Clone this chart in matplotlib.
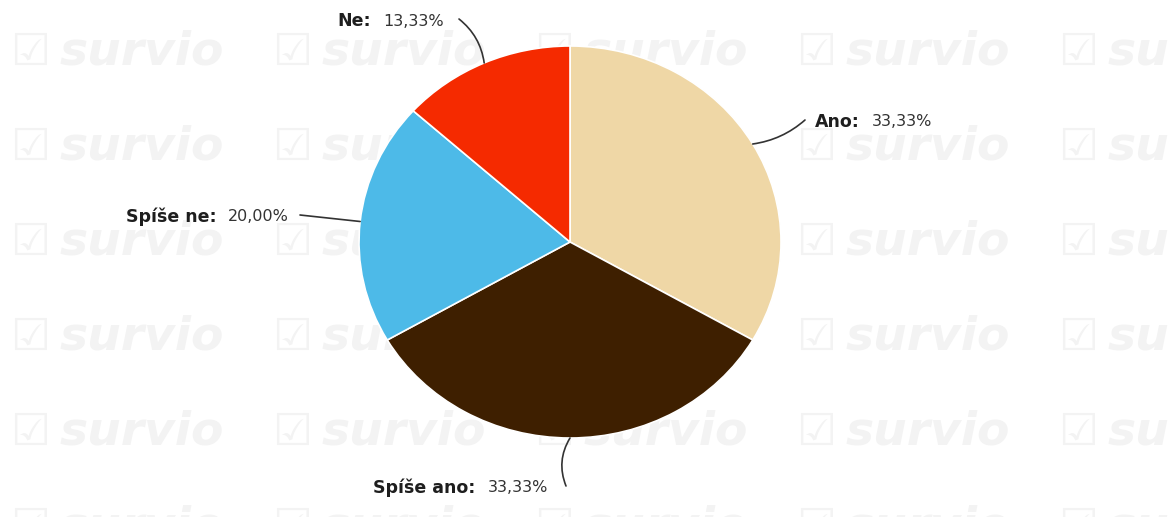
import numpy as np
import matplotlib
matplotlib.use('Agg')
import matplotlib.pyplot as plt

labels = ['Ano', 'Spíše ano', 'Spíše ne', 'Ne']
values = [33.33, 33.33, 20.00, 13.33]
colors = ['#EFD7A6', '#3E1F00', '#4DBAE8', '#F52A00']

# label text anchor (figure pixels from top-left) and side
label_pos = [(815, 122, 'left'), (548, 488, 'right'), (289, 217, 'right'), (444, 21, 'right')]
line_end = [(805, 120), (566, 486), (300, 215), (459, 19)]
line_rad = [-0.15, -0.25, 0.0, -0.2]

W, H = 1170, 517
fig = plt.figure(figsize=(W / 100, H / 100), dpi=100)
fig.patch.set_facecolor('white')

# tiled watermark in the background
wm = '#f3f3f3'
for row in range(6):
    for col in range(5):
        x = 10 + col * 262
        y = 52 + row * 95
        fig.text(x / W, 1 - y / H, '☑', fontsize=32, color=wm,
                 fontweight='bold', va='center', ha='left', zorder=-5)
        fig.text((x + 50) / W, 1 - y / H, 'survio', fontsize=34, color=wm,
                 fontweight='bold', style='italic', va='center', ha='left', zorder=-5)

# pie axes sized to the (slightly stretched) ellipse
cx, cy, rx, ry = 570, 242, 211, 196
ax = fig.add_axes([(cx - rx) / W, 1 - (cy + ry) / H, 2 * rx / W, 2 * ry / H])
wedges, _ = ax.pie(values, colors=colors, startangle=90, counterclock=False,
                   wedgeprops=dict(edgecolor='white', linewidth=1.2))
ax.set_aspect('auto')
ax.set_xlim(-1, 1)
ax.set_ylim(-1, 1)
ax.axis('off')

fig.canvas.draw()
renderer = fig.canvas.get_renderer()
gap = 12

for w, lab, val, (tx, ty, side), (lx, ly), rad in zip(wedges, labels, values, label_pos, line_end, line_rad):
    mid = np.deg2rad((w.theta1 + w.theta2) / 2)
    px, py = np.cos(mid), np.sin(mid)
    ax.annotate('', xy=(px, py), xycoords='data',
                xytext=(lx, H - ly), textcoords='figure pixels',
                arrowprops=dict(arrowstyle='-', color='#333333', lw=1.2,
                                connectionstyle='arc3,rad=%s' % rad,
                                shrinkA=0, shrinkB=0))
    name = lab + ':'
    value = ('%.2f%%' % val).replace('.', ',')
    if side == 'left':
        t1 = fig.text(tx / W, 1 - ty / H, name, fontsize=12.5, fontweight='bold',
                      color='#1e1e1e', ha='left', va='center')
        bb = t1.get_window_extent(renderer)
        fig.text((bb.x1 + gap) / W, 1 - ty / H, value, fontsize=11.5, color='#333333',
                 ha='left', va='center')
    else:
        t2 = fig.text(tx / W, 1 - ty / H, value, fontsize=11.5, color='#333333',
                      ha='right', va='center')
        bb = t2.get_window_extent(renderer)
        fig.text((bb.x0 - gap) / W, 1 - ty / H, name, fontsize=12.5, fontweight='bold',
                 color='#1e1e1e', ha='right', va='center')

fig.savefig('out.png', dpi=100, facecolor='white')
